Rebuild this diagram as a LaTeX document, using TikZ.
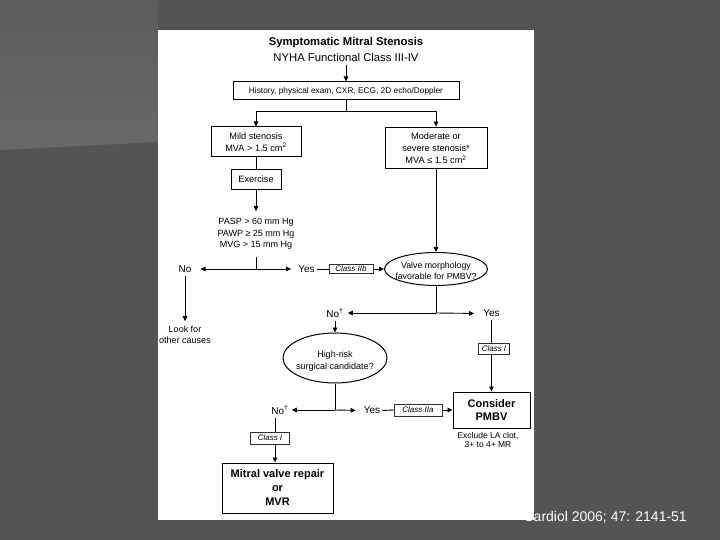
\documentclass[tikz,border=0pt]{standalone}
\usepackage{fontspec}
\setmainfont{Liberation Sans}
\usetikzlibrary{arrows.meta,shapes.geometric}
\definecolor{bgd}{HTML}{545454}
\definecolor{bgtop}{HTML}{5C5C5C}
\definecolor{bgmid}{HTML}{686868}
\definecolor{clsline}{HTML}{303030}
\tikzset{
  mainbox/.style={draw, line width=1pt, align=center, inner sep=0pt, font=\fontsize{9.2}{12}\selectfont},
  clsbox/.style={draw=clsline, line width=0.7pt, inner sep=0pt, font=\fontsize{8}{9}\selectfont\itshape},
  decision/.style={ellipse, draw, line width=1pt, inner sep=0pt},
  lbl/.style={inner xsep=2pt, inner ysep=3pt, align=center, font=\fontsize{10}{12}\selectfont},
  note/.style={inner sep=1pt, align=center, font=\fontsize{9}{11.5}\selectfont},
  link/.style={line width=0.9pt},
  arrowlink/.style={line width=0.9pt, -{Triangle[length=5pt,width=4.5pt]}},
}
\begin{document}
\begin{tikzpicture}[x=1pt,y=-1pt]
\useasboundingbox (0,0) rectangle (720,540);
% slide background
\fill[bgd] (0,0) rectangle (720,540);
\shade[top color=bgtop, bottom color=bgmid] (0,0) -- (158,0) -- (158,142) -- (0,150) -- cycle;
\node[anchor=base east, text=white, font=\fontsize{14}{16}\selectfont, inner sep=0pt] (cite) at (687,521.5) {Cardiol 2006; 47: 2141-51};
\fill[white] (158,30) rectangle (534,520);

% title
\node[font=\fontsize{11.3}{13}\selectfont\bfseries] (t1) at (346,43) {Symptomatic Mitral Stenosis};
\node[font=\fontsize{11.3}{13}\selectfont] (t2) at (346,57) {NYHA Functional Class III-IV};

% boxes
\node[mainbox, minimum width=226pt, minimum height=18pt, font=\fontsize{8.3}{10}\selectfont] (hist) at (346,91) {History, physical exam, CXR, ECG, 2D echo/Doppler};
\node[mainbox, minimum width=90pt, minimum height=30pt] (mild) at (256,142) {Mild stenosis\\MVA {\char"003E} 1.5 cm\textsuperscript{2}};
\node[mainbox, minimum width=102pt, minimum height=41pt, line width=0.8pt] (mod) at (436,147.5) {\rule{0pt}{9pt}Moderate or\\severe stenosis*\\MVA ≤ 1.5 cm\textsuperscript{2}};
\node[mainbox, minimum width=50pt, minimum height=20pt, line width=0.8pt] (exer) at (256,179) {Exercise};
\node[note, inner xsep=2pt, inner ysep=7pt] (crit) at (256,234) {PASP {\char"003E} 60 mm Hg\\PAWP ≥ 25 mm Hg\\MVG {\char"003E} 15 mm Hg};

\coordinate (split) at (346,111);
\coordinate (j1) at (256,269);
\coordinate (j2) at (436,313);
\coordinate (j3) at (335,410);

\node[lbl] (no1) at (185,269) {No};
\node[lbl] (yes1) at (306.5,269) {Yes};
\node[clsbox, minimum width=44pt, minimum height=9pt] (c2b) at (351,269) {Class IIb};
\node[decision, minimum width=103pt, minimum height=33pt,
      label={[note, yshift=-2pt, font=\fontsize{8.8}{11.3}\selectfont]center:Valve morphology\\favorable for PMBV?}] (valve) at (436,269) {};
\node[note, inner ysep=5pt, font=\fontsize{9}{10.5}\selectfont] (look) at (185,335) {Look for\\other causes};

\node[lbl] (no2) at (335,313) {No\textsuperscript{†}};
\node[lbl] (yes2) at (491.5,313.5) {Yes};
\node[decision, minimum width=104pt, minimum height=50pt,
      label={[note, yshift=-3pt]center:High-risk\\surgical candidate?}] (risk) at (335,358) {};
\node[clsbox, minimum width=31pt, minimum height=11pt] (c1a) at (494,348.5) {Class I};
\node[mainbox, minimum width=77pt, minimum height=36pt, font=\fontsize{11}{13}\selectfont\bfseries] (pmbv) at (491.5,410) {Consider\\PMBV};
\node[note, font=\fontsize{8.5}{9.5}\selectfont] (excl) at (488,440) {Exclude LA clot,\\3+ to 4+ MR};

\node[lbl] (no3) at (280,410) {No\textsuperscript{†}};
\node[lbl] (yes3) at (372,410.5) {Yes};
\node[clsbox, minimum width=48pt, minimum height=12pt] (c2a) at (418,410) {Class IIa};
\node[clsbox, minimum width=39pt, minimum height=12pt] (c1b) at (270,438) {Class I};
\node[mainbox, minimum width=111pt, minimum height=50pt, font=\fontsize{11}{14}\selectfont\bfseries] (mitral) at (277.5,488) {Mitral valve repair\\or\\MVR};

% connectors
\draw[arrowlink] (t2.south) -- (hist.north);
\draw[link] (hist.south) -- (split);
\draw[arrowlink] (split) -| (mild.north);
\draw[arrowlink] (split) -| (mod.north);
\draw[link] (mild.south) -- (exer.north);
\draw[arrowlink] (exer.south) -- (crit.north);
\draw[link] (crit.south) -- (j1);
\draw[arrowlink, shorten >=7pt] (j1) -- (no1.east);
\draw[arrowlink, shorten >=5pt] (j1) -- (yes1.west);
\draw[link] (yes1.east) -- (c2b.west);
\draw[arrowlink] (c2b.east) -- (valve.west);
\draw[arrowlink] (mod.south) -- (valve.north);
\draw[arrowlink] (no1.south) -- (look.north);

\draw[link] (valve.south) -- (j2);
\draw[arrowlink, shorten >=2pt] (j2) -- (no2.east);
\draw[arrowlink, shorten >=7pt] (j2) -- (yes2.west);
\draw[arrowlink] (no2.south) -- (risk.north);
\draw[link] (yes2.south) -- (yes2.south |- c1a.north);
\draw[arrowlink] (yes2.south |- c1a.south) -- (pmbv.north);

\draw[link] (risk.south) -- (j3);
\draw[arrowlink, shorten >=1pt] (j3) -- (no3.east);
\draw[arrowlink, shorten >=6pt] (j3) -- (yes3.west);
\draw[link] (yes3.east) -- (c2a.west);
\draw[arrowlink] (c2a.east) -- (pmbv.west);
\draw[link] ([xshift=-5pt]no3.south) -- ([xshift=-5pt]no3.south |- c1b.north);
\draw[arrowlink] ([xshift=-5pt]no3.south |- c1b.south) -- ([xshift=-5pt]no3.south |- mitral.north);
\end{tikzpicture}
\end{document}
